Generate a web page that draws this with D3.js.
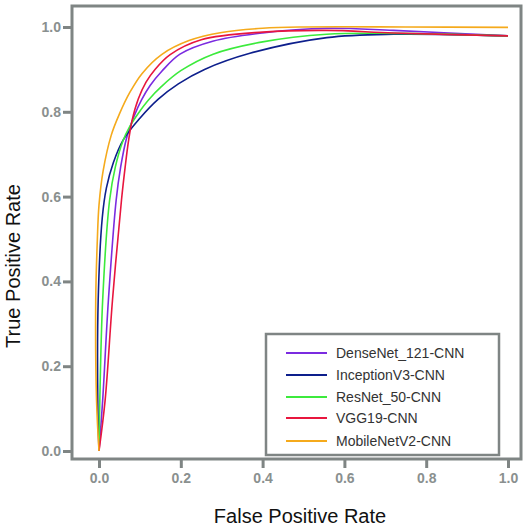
<!DOCTYPE html>
<html>
<head>
<meta charset="utf-8">
<script src="https://cdn.jsdelivr.net/npm/d3@7"></script>
<style>
  body { margin: 0; background: #fff; }
  svg { display: block; font-family: "Liberation Sans", Arial, sans-serif; }
</style>
</head>
<body>
<script>
var width = 528;
var height = 530;

// series names and colours, in legend order
var names = ["DenseNet_121-CNN", "InceptionV3-CNN", "ResNet_50-CNN", "VGG19-CNN", "MobileNetV2-CNN"];
var colors = ["#7b2be0", "#0d1f8c", "#3cea3c", "#e8163e", "#f5aa1c"];

// [fpr, tpr]
var densenet = [[0, 0], [0.009, 0.12], [0.023, 0.356], [0.042, 0.592], [0.053, 0.67], [0.068, 0.74],
  [0.086, 0.79], [0.104, 0.828], [0.125, 0.862], [0.153, 0.895], [0.198, 0.936], [0.28, 0.967],
  [0.4, 0.986], [0.557, 0.997], [0.72, 0.992], [1.0, 0.979]];
var inception = [[0, 0], [-0.003, 0.12], [-0.002, 0.356], [0.008, 0.55], [0.018, 0.62], [0.035, 0.68],
  [0.06, 0.735], [0.1, 0.785], [0.145, 0.83], [0.194, 0.866], [0.258, 0.9], [0.369, 0.938],
  [0.557, 0.975], [0.72, 0.983], [1.0, 0.979]];
var resnet = [[0, 0], [0.002, 0.12], [0.009, 0.356], [0.026, 0.592], [0.04, 0.67], [0.058, 0.73],
  [0.075, 0.765], [0.095, 0.795], [0.121, 0.828], [0.153, 0.86], [0.2, 0.897], [0.279, 0.936],
  [0.4, 0.965], [0.557, 0.983], [0.72, 0.985], [1.0, 0.979]];
var vgg = [[0, 0], [0.015, 0.12], [0.033, 0.356], [0.055, 0.592], [0.064, 0.67], [0.072, 0.73],
  [0.081, 0.78], [0.096, 0.83], [0.115, 0.87], [0.137, 0.9], [0.174, 0.935], [0.25, 0.97],
  [0.4, 0.988], [0.557, 0.992], [0.72, 0.986], [1.0, 0.979]];
var mobilenet = [[0, 0], [-0.006, 0.12], [-0.008, 0.356], [-0.004, 0.5], [0.0, 0.58], [0.01, 0.66],
  [0.03, 0.745], [0.05, 0.795], [0.075, 0.845], [0.105, 0.89], [0.153, 0.935], [0.22, 0.968],
  [0.3, 0.987], [0.4, 0.997], [0.5, 1.0], [0.75, 1.0], [1.0, 0.999]];
var series = [densenet, inception, resnet, vgg, mobilenet];

var ticks = [0, 0.2, 0.4, 0.6, 0.8, 1.0];

var frame = {left: 72, top: 6, right: 521, bottom: 459};
var gray = "#7f8584";

var x = d3.scaleLinear().domain([0, 1]).range([99, 508]);
var y = d3.scaleLinear().domain([0, 1]).range([451, 27]);

var svg = d3.select("body").append("svg")
  .attr("width", width)
  .attr("height", height);

// plot frame
svg.append("rect")
  .attr("x", frame.left)
  .attr("y", frame.top)
  .attr("width", frame.right - frame.left)
  .attr("height", frame.bottom - frame.top)
  .style("fill", "#fff")
  .style("stroke", gray)
  .style("stroke-width", 3);

// axes, ticks drawn outside the frame
var xAxis = svg.append("g")
  .attr("transform", "translate(0," + (frame.bottom + 1) + ")")
  .call(d3.axisBottom(x).tickValues(ticks).tickFormat(d3.format(".1f")).tickSize(8).tickSizeOuter(0));
var yAxis = svg.append("g")
  .attr("transform", "translate(" + (frame.left - 1) + ",0)")
  .call(d3.axisLeft(y).tickValues(ticks).tickFormat(d3.format(".1f")).tickSize(8).tickSizeOuter(0));

[xAxis, yAxis].forEach(function (a) {
  a.select(".domain").remove();
  a.selectAll(".tick line").style("stroke", gray).style("stroke-width", 3);
  a.selectAll(".tick text")
    .style("fill", "#8a908f")
    .style("font-weight", "bold")
    .style("font-size", "14px")
    .style("font-family", "Liberation Sans, Arial, sans-serif");
});
xAxis.selectAll(".tick text").attr("dy", "0.71em").attr("y", 13);
yAxis.selectAll(".tick text").attr("x", -10);

// curves
var line = d3.line()
  .x(function (d) { return x(d[0]); })
  .y(function (d) { return y(d[1]); })
  .curve(d3.curveCatmullRom.alpha(0.5));

svg.selectAll(".curve")
  .data(series)
  .enter().append("path")
  .attr("class", "curve")
  .attr("d", line)
  .style("fill", "none")
  .style("stroke", function (d, i) { return colors[i]; })
  .style("stroke-width", 1.6);

// legend
var legend = svg.append("g");
legend.append("rect")
  .attr("x", 266)
  .attr("y", 334)
  .attr("width", 233)
  .attr("height", 121)
  .style("fill", "#fff")
  .style("stroke", gray)
  .style("stroke-width", 2.5);

var rows = [353, 375, 397, 418, 441];
var item = legend.selectAll(".item")
  .data(names)
  .enter().append("g")
  .attr("transform", function (d, i) { return "translate(0," + rows[i] + ")"; });
item.append("line")
  .attr("x1", 286).attr("x2", 327)
  .style("stroke", function (d, i) { return colors[i]; })
  .style("stroke-width", 2);
item.append("text")
  .attr("x", 336)
  .attr("dy", "0.35em")
  .style("font-size", "14px")
  .style("fill", "#333")
  .text(function (d) { return d; });

// axis titles
svg.append("text")
  .attr("x", 300)
  .attr("y", 523)
  .attr("text-anchor", "middle")
  .style("font-size", "20px")
  .style("fill", "#111")
  .text("False Positive Rate");

svg.append("text")
  .attr("transform", "translate(20,266) rotate(-90)")
  .attr("text-anchor", "middle")
  .style("font-size", "20px")
  .style("fill", "#111")
  .text("True Positive Rate");
</script>
</body>
</html>
